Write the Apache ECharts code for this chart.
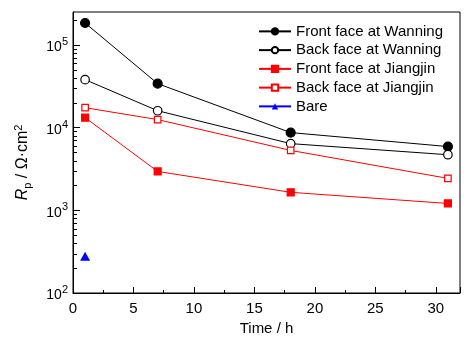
<!DOCTYPE html>
<html>
<head>
<meta charset="utf-8">
<script src="https://cdn.jsdelivr.net/npm/echarts@6/dist/echarts.min.js"></script>
<style>
  html, body { margin: 0; padding: 0; background: #fff; }
  #chart { width: 471px; height: 342px; }
</style>
</head>
<body>
<div id="chart"></div>
<script>
// Immersion time (h)
const timeHours = [1, 7, 18, 31];

// Polarization resistance Rp (Ω·cm²)
const frontWanning  = [184000, 34000, 8700, 5900];
const backWanning   = [38000, 16000, 6400, 4700];
const frontJiangjin = [13200, 2950, 1650, 1210];
const backJiangjin  = [17400, 12500, 5300, 2430];
const bareTime = [1];
const bare     = [279];

const xTicks = [0, 5, 10, 15, 20, 25, 30];
const yRange = [100, 250000];

// Minor ticks on the log axis at 2..9 × each decade
const yMinorTicks = [];
for (let d = 100; d < yRange[1]; d *= 10) {
  for (let k = 2; k <= 9; k++) {
    if (k * d < yRange[1]) yMinorTicks.push(k * d);
  }
}

const FONT = '"Liberation Sans", Arial, sans-serif';
const chart = echarts.init(document.getElementById('chart'));

function zip(xs, ys) { return xs.map((x, i) => [x, ys[i]]); }

function lineSeries(name, ys, color, symbol, size, filled) {
  return {
    name: name,
    type: 'line',
    data: zip(timeHours, ys),
    symbol: symbol,
    symbolSize: size,
    showAllSymbol: true,
    lineStyle: { color: color, width: 1 },
    itemStyle: {
      color: filled ? color : '#fff',
      borderColor: color,
      borderWidth: 1.2
    },
    emphasis: { disabled: true },
    z: 3
  };
}

chart.setOption({
  animation: false,
  textStyle: { fontFamily: FONT, color: '#000' },
  grid: {
    left: 73, right: 11, top: 12, bottom: 49,
    show: true, borderColor: '#000', borderWidth: 1, backgroundColor: 'transparent'
  },
  legend: {
    left: 253, top: 17,
    orient: 'vertical',
    itemWidth: 32, itemHeight: 8, itemGap: 0,
    textStyle: { fontSize: 15, lineHeight: 18.75, color: '#000', fontFamily: FONT },
    data: ['Front face at Wanning', 'Back face at Wanning', 'Front face at Jiangjin', 'Back face at Jiangjin', 'Bare']
  },
  xAxis: {
    type: 'value',
    min: 0, max: 32, interval: 5,
    name: 'Time / h',
    nameLocation: 'middle',
    nameGap: 28,
    nameTextStyle: { fontSize: 15, color: '#000', fontFamily: FONT },
    axisLine: { show: true, lineStyle: { color: '#000', width: 1 } },
    axisTick: { show: true, inside: true, length: 6, lineStyle: { color: '#000' } },
    minorTick: { show: true, splitNumber: 2, length: 3, lineStyle: { color: '#000' } },
    axisLabel: {
      fontSize: 15, color: '#000', margin: 8, fontFamily: FONT,
      showMaxLabel: false,
      formatter: v => (xTicks.indexOf(v) >= 0 ? String(v) : '')
    },
    splitLine: { show: false }
  },
  yAxis: {
    type: 'log',
    logBase: 10,
    min: yRange[0], max: yRange[1],
    name: '{i|R}{sub|p}{n| / Ω·cm}{sup|2}',
    nameLocation: 'middle',
    nameRotate: 90,
    nameGap: 40,
    nameTextStyle: {
      fontSize: 16, color: '#000', fontFamily: FONT,
      padding: [0, 20, 0, 0],
      rich: {
        i: { fontSize: 16, fontStyle: 'italic', fontFamily: FONT, color: '#000' },
        sub: { fontSize: 11, fontFamily: FONT, color: '#000', padding: [9, 0, 0, 0] },
        n: { fontSize: 16, fontFamily: FONT, color: '#000' },
        sup: { fontSize: 11, fontFamily: FONT, color: '#000', padding: [0, 0, 9, 0] }
      }
    },
    axisLine: { show: true, lineStyle: { color: '#000', width: 1 } },
    axisTick: { show: true, inside: true, length: 7, lineStyle: { color: '#000' } },
    axisLabel: {
      margin: 5, color: '#000', fontFamily: FONT,
      showMaxLabel: false,
      formatter: function (v) {
        const e = Math.round(Math.log10(v));
        if (Math.abs(Math.pow(10, e) - v) > 1e-6 * v) return '';
        return '{b|10}{s|' + e + '}';
      },
      rich: {
        b: { fontSize: 14, fontFamily: FONT, color: '#000', padding: [5, 0, 0, 0] },
        s: { fontSize: 11, fontFamily: FONT, color: '#000', padding: [0, 0, 6, 0] }
      }
    },
    splitLine: { show: false }
  },
  series: [
    lineSeries('Front face at Wanning', frontWanning, '#000', 'circle', 9, true),
    lineSeries('Back face at Wanning', backWanning, '#000', 'circle', 8.5, false),
    lineSeries('Front face at Jiangjin', frontJiangjin, '#ff0000', 'rect', 7, true),
    lineSeries('Back face at Jiangjin', backJiangjin, '#ff0000', 'rect', 6.5, false),
    {
      name: 'Bare',
      type: 'line',
      data: zip(bareTime, bare),
      symbol: 'triangle',
      symbolSize: [10, 9],
      lineStyle: { color: '#0000ff', width: 1 },
      itemStyle: { color: '#0000ff' },
      emphasis: { disabled: true },
      z: 3
    }
  ]
});

// Minor ticks of the log axis, placed through the axis scale
chart.setOption({
  graphic: yMinorTicks.map(v => {
    const p = chart.convertToPixel({ xAxisIndex: 0, yAxisIndex: 0 }, [0, v]);
    return {
      type: 'line',
      silent: true,
      z: 10,
      shape: { x1: p[0], y1: Math.round(p[1]) + 0.5, x2: p[0] + 4, y2: Math.round(p[1]) + 0.5 },
      style: { stroke: '#000', lineWidth: 1 }
    };
  })
});
</script>
</body>
</html>
